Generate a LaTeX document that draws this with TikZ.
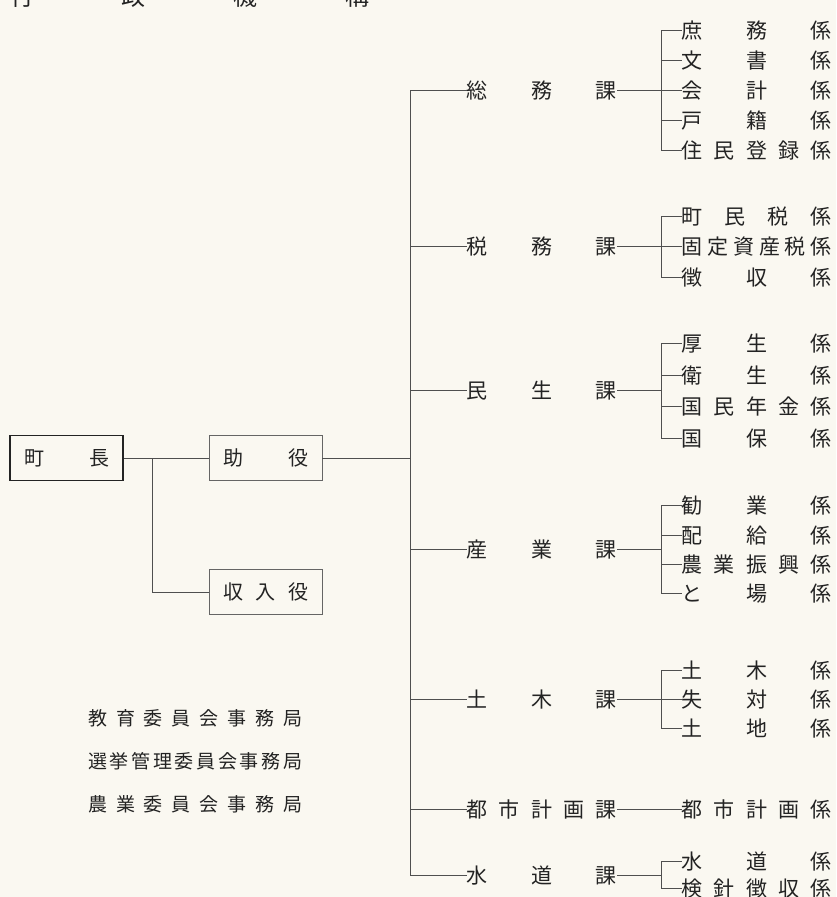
\documentclass[tikz,border=0pt]{standalone}
\usepackage{fontspec}
\newfontfamily\jp{Noto Sans CJK JP}
\makeatletter
% spread the characters of #2 evenly over the width #1
\newcommand\spr[2]{\makebox[#1][s]{\@tfor\spr@c:=#2\do{\spr@c\hfill}\unskip}}
\makeatother
\definecolor{paper}{RGB}{250,248,241}
\definecolor{ink}{RGB}{35,35,35}

\begin{document}
\begin{tikzpicture}[x=1pt,y=-1pt,
  ka/.style={anchor=west,inner sep=0pt,text height=18.5pt,text depth=2.5pt,font=\jp\fontsize{21pt}{21pt}\selectfont,text=ink},
  kk/.style={ka},
  kyoku/.style={anchor=west,inner sep=0pt,text height=16.7pt,text depth=2.3pt,font=\jp\fontsize{19pt}{19pt}\selectfont,text=ink},
  bx/.style={draw=ink!70,line width=0.7pt,minimum width=113pt,minimum height=45pt,inner sep=0pt,text height=17.6pt,text depth=2.4pt,font=\jp\fontsize{20pt}{20pt}\selectfont,text=ink},
  e/.style={draw=ink!80,line width=0.7pt}]

\fill[paper] (0,0) rectangle (836,897);
\useasboundingbox (0,0) rectangle (836,897);

\node[ka,text height=21.1pt,text depth=2.9pt,font=\jp\fontsize{24pt}{24pt}\selectfont] (title) at (10,-4) {\spr{359pt}{行政機構}};

% left side
\node[bx,draw=ink,line width=1.8pt] (cho) at (66.5,458) {\spr{85pt}{町長}};
\node[bx] (jo) at (265.5,458) {\spr{85pt}{助役}};
\node[bx] (shu) at (265.5,592) {\spr{85pt}{収入役}};
\coordinate (fork) at ([xshift=28pt]cho.east);
\path[e] (cho.east) -- (jo.west);
\path[e] (fork) |- (shu.west);

\node[kyoku] (kyo1) at (88,718) {\spr{214pt}{教育委員会事務局}};
\node[kyoku] (kyo2) at (88,761) {\spr{214pt}{選挙管理委員会事務局}};
\node[kyoku] (kyo3) at (88,804) {\spr{214pt}{農業委員会事務局}};

% sections
\node[ka] (somu) at (466.5,90) {\spr{150pt}{総務課}};
\node[ka] (zeimu) at (466.5,246) {\spr{150pt}{税務課}};
\node[ka] (minsei) at (466.5,390) {\spr{150pt}{民生課}};
\node[ka] (sangyo) at (466.5,549) {\spr{150pt}{産業課}};
\node[ka] (doboku) at (466.5,699) {\spr{150pt}{土木課}};
\node[ka] (toshi) at (466.5,809) {\spr{150pt}{都市計画課}};
\node[ka] (suido) at (466.5,875) {\spr{150pt}{水道課}};

\coordinate (tr) at (410,0);
\path[e] (jo.east) -- (tr |- jo.east);
\path[e] (tr |- somu.west) -- (tr |- suido.west);
\foreach \k in {somu,zeimu,minsei,sangyo,doboku,toshi,suido}
  \path[e] (tr |- \k.west) -- (\k.west);

% kakari
\node[kk] (s1) at (681.5,30) {\spr{150pt}{庶務係}};
\node[kk] (s2) at (681.5,60) {\spr{150pt}{文書係}};
\node[kk] (s3) at (681.5,90) {\spr{150pt}{会計係}};
\node[kk] (s4) at (681.5,120) {\spr{150pt}{戸籍係}};
\node[kk] (s5) at (681.5,150) {\spr{150pt}{住民登録係}};

\node[kk] (z1) at (681.5,216) {\spr{150pt}{町民税係}};
\node[kk] (z2) at (681.5,246) {\spr{150pt}{固定資産税係}};
\node[kk] (z3) at (681.5,277) {\spr{150pt}{徴収係}};

\node[kk] (m1) at (681.5,343) {\spr{150pt}{厚生係}};
\node[kk] (m2) at (681.5,375) {\spr{150pt}{衛生係}};
\node[kk] (m3) at (681.5,406) {\spr{150pt}{国民年金係}};
\node[kk] (m4) at (681.5,438) {\spr{150pt}{国保係}};

\node[kk] (g1) at (681.5,505) {\spr{150pt}{勧業係}};
\node[kk] (g2) at (681.5,535) {\spr{150pt}{配給係}};
\node[kk] (g3) at (681.5,564) {\spr{150pt}{農業振興係}};
\node[kk] (g4) at (681.5,593) {\spr{150pt}{と場係}};

\node[kk] (d1) at (681.5,670) {\spr{150pt}{土木係}};
\node[kk] (d2) at (681.5,699) {\spr{150pt}{失対係}};
\node[kk] (d3) at (681.5,728) {\spr{150pt}{土地係}};

\node[kk] (t1) at (681.5,809) {\spr{150pt}{都市計画係}};

\node[kk] (w1) at (681.5,861) {\spr{150pt}{水道係}};
\node[kk] (w2) at (681.5,888) {\spr{150pt}{検針徴収係}};

\coordinate (br) at (661,0);
\foreach \k in {s1,s2,s3,s4,s5,z1,z2,z3,m1,m2,m3,m4,g1,g2,g3,g4,d1,d2,d3,w1,w2}
  \path[e] (br |- \k.west) -- (\k.west);
\path[e] (br |- s1.west) -- (br |- s5.west);
\path[e] (br |- z1.west) -- (br |- z3.west);
\path[e] (br |- m1.west) -- (br |- m4.west);
\path[e] (br |- g1.west) -- (br |- g4.west);
\path[e] (br |- d1.west) -- (br |- d3.west);
\path[e] (br |- w1.west) -- (br |- w2.west);
\foreach \k in {somu,zeimu,minsei,sangyo,doboku,suido}
  \path[e] (\k.east) -- (br |- \k.east);
\path[e] (toshi.east) -- (t1.west);

\end{tikzpicture}
\end{document}
